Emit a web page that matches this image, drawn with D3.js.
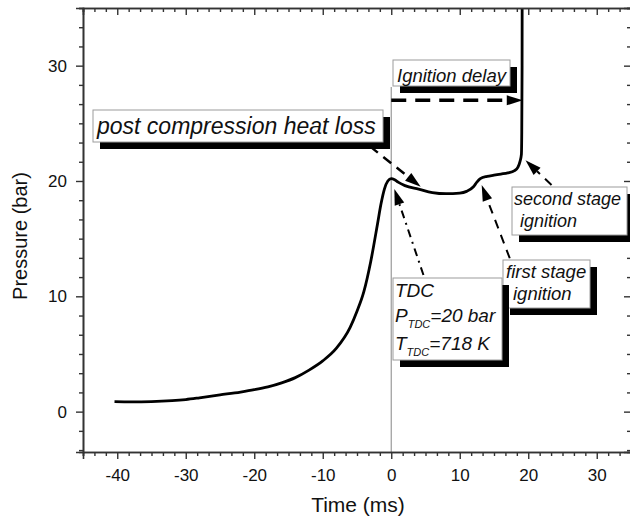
<!DOCTYPE html>
<html>
<head>
<meta charset="utf-8">
<script src="https://cdn.jsdelivr.net/npm/d3@7"></script>
<style>
  body { margin: 0; background: #fff; }
  svg { display: block; font-family: "Liberation Sans", Arial, sans-serif; }
</style>
</head>
<body>
<svg id="chart" width="630" height="518"></svg>
<script>
// Pressure trace (time in ms, pressure in bar)
var time = [-40.4, -38, -35, -32, -30, -28, -25, -22, -20, -18, -16, -14, -12, -10, -8, -6, -5, -4, -3, -2, -1.5, -1, -0.5,
    0, 0.5, 1, 2, 4, 6, 8, 10, 11, 12, 12.5, 13, 14, 15, 16, 17, 18, 18.5, 18.8, 19.0, 19.05, 19.1, 19.12];
var pressure = [0.87, 0.85, 0.87, 0.95, 1.05, 1.2, 1.45, 1.7, 1.9, 2.15, 2.5, 2.95, 3.6, 4.4, 5.5, 7.3, 8.7, 10.4, 13.0, 16.3, 18.0, 19.3, 20.0,
    20.2, 20.1, 19.9, 19.6, 19.3, 19.0, 18.9, 18.95, 19.1, 19.5, 19.9, 20.2, 20.4, 20.5, 20.6, 20.7, 20.9, 21.2, 21.7, 22.3, 24, 30, 40];

var xTicks = [-40, -30, -20, -10, 0, 10, 20, 30];
var yTicks = [0, 10, 20, 30];
var xDomain = [-45, 35];
var yDomain = [-3.5, 35];

// Annotation boxes (text lines) and arrows (data coordinates)
var boxes = [
    {x: 93, y: 110, w: 290, h: 32, size: 23, lines: [{x: 97, y: 133.5, parts: [["post compression heat loss"]]}]},
    {x: 393, y: 60, w: 117, h: 26, size: 18.5, lines: [{x: 397, y: 81.5, parts: [["Ignition delay"]]}]},
    {x: 512, y: 187, w: 115, h: 48, size: 18, lines: [
        {x: 514, y: 205, parts: [["second stage"]]},
        {x: 520, y: 227, parts: [["ignition"]]}]},
    {x: 503, y: 260, w: 87, h: 48, size: 18.5, lines: [
        {x: 506, y: 278, parts: [["first stage"]]},
        {x: 513, y: 300, parts: [["ignition"]]}]},
    {x: 393, y: 278, w: 109, h: 82, size: 19, lines: [
        {x: 395, y: 297, parts: [["TDC"]]},
        {x: 395, y: 322, parts: [["P"], ["TDC", "sub"], ["=20 bar"]]},
        {x: 395, y: 350, parts: [["T"], ["TDC", "sub"], ["=718 K"]]}]}
];

var arrows = [
    {from: [-3.1, 23.0], to: [4.3, 19.5], width: 2.5, dash: "10,7"},
    {from: [0, 27.0], to: [19.2, 27.0], width: 3.5, dash: "15,9"},
    {from: [23.4, 19.65], to: [19.6, 21.8], width: 2, dash: "9,7"},
    {from: [17.3, 13.3], to: [13.2, 19.65], width: 2, dash: "9,7"},
    {from: [4.7, 11.85], to: [0.45, 19.3], width: 2, dash: "8,5,2,5"}
];

var svg = d3.select("#chart");
var margin = {left: 83, right: 631, top: 8, bottom: 452};

var x = d3.scaleLinear().domain(xDomain).range([margin.left, margin.right]);
var y = d3.scaleLinear().domain(yDomain).range([margin.bottom, margin.top]);

// minor ticks: five between each pair of labelled ticks
function isMajor(v, ticks) {
    return ticks.some(function (t) { return Math.abs(t - v) < 1e-6; });
}
var minorX = d3.range(xDomain[0], xDomain[1] + 1e-6, 10 / 6)
    .filter(function (v) { return !isMajor(v, xTicks); });
var minorY = d3.range(-10 / 3, yDomain[1] + 1e-6, 10 / 6)
    .filter(function (v) { return !isMajor(v, yTicks); });

svg.append("defs").append("clipPath").attr("id", "plot-clip")
    .append("rect")
    .attr("x", margin.left).attr("y", margin.top)
    .attr("width", margin.right - margin.left).attr("height", margin.bottom - margin.top);

// TDC marker line
svg.append("line")
    .attr("x1", x(0)).attr("x2", x(0))
    .attr("y1", y(28.15)).attr("y2", y(yDomain[0]))
    .attr("stroke", "#9a9a9a").attr("stroke-width", 1.2);

// Pressure trace
var line = d3.line()
    .x(function (d) { return x(d[0]); })
    .y(function (d) { return y(d[1]); })
    .curve(d3.curveMonotoneX);

svg.append("path")
    .datum(d3.zip(time, pressure))
    .attr("clip-path", "url(#plot-clip)")
    .attr("d", line)
    .attr("fill", "none")
    .attr("stroke", "#000")
    .attr("stroke-width", 2.8)
    .attr("stroke-linejoin", "round");

// Axes: major + minor ticks on all four sides
function styleAxis(g) {
    g.select(".domain").attr("stroke", "#333").attr("stroke-width", 1.6);
    g.selectAll(".tick line").attr("stroke", "#333").attr("stroke-width", 1.4);
    g.selectAll(".tick text").attr("fill", "#111").style("font-size", "17px")
        .style("font-family", "'Liberation Sans', Arial, sans-serif");
}

function drawAxis(make, scale, ticks, minors, transform, size, labels) {
    svg.append("g").attr("transform", transform)
        .call(make(scale).tickValues(minors).tickSize(size * 4 / 7).tickFormat(""))
        .call(styleAxis);
    var g = svg.append("g").attr("transform", transform)
        .call(make(scale).tickValues(ticks).tickSize(size).tickPadding(5)
            .tickFormat(labels ? function (d) { return String(d); } : ""))
        .call(styleAxis);
    return g;
}

var xb = drawAxis(d3.axisBottom, x, xTicks, minorX, "translate(0," + margin.bottom + ")", 7, true);
xb.selectAll(".tick text").attr("dy", "1.0em");
drawAxis(d3.axisTop, x, xTicks, minorX, "translate(0," + margin.top + ")", -7, false);
var yl = drawAxis(d3.axisLeft, y, yTicks, minorY, "translate(" + margin.left + ",0)", 7, true);
yl.selectAll(".tick text").attr("x", -16);
drawAxis(d3.axisRight, y, yTicks, minorY, "translate(" + margin.right + ",0)", -7, false);

// Axis titles
svg.append("text")
    .attr("x", (margin.left + margin.right) / 2 + 1).attr("y", 512)
    .attr("text-anchor", "middle")
    .style("font-size", "21px").attr("fill", "#111")
    .text("Time (ms)");

svg.append("text")
    .attr("transform", "translate(27," + 236 + ") rotate(-90)")
    .attr("text-anchor", "middle")
    .style("font-size", "20px").attr("fill", "#111")
    .text("Pressure (bar)");

// Arrows
function drawArrow(a) {
    var x1 = x(a.from[0]), y1 = y(a.from[1]), x2 = x(a.to[0]), y2 = y(a.to[1]);
    var ang = Math.atan2(y2 - y1, x2 - x1);
    var len = 16, half = 5;
    var bx = x2 - len * Math.cos(ang), by = y2 - len * Math.sin(ang);
    svg.append("line")
        .attr("x1", x1).attr("y1", y1).attr("x2", bx).attr("y2", by)
        .attr("stroke", "#000").attr("stroke-width", a.width)
        .attr("stroke-dasharray", a.dash);
    var pts = [
        [x2, y2],
        [bx + half * Math.sin(ang), by - half * Math.cos(ang)],
        [bx - half * Math.sin(ang), by + half * Math.cos(ang)]
    ];
    svg.append("polygon").attr("points", pts.map(function (p) { return p.join(","); }).join(" "))
        .attr("fill", "#000");
}
arrows.forEach(drawArrow);

// Annotation boxes with drop shadows
boxes.forEach(function (b) {
    var g = svg.append("g");
    g.append("rect").attr("x", b.x + 7).attr("y", b.y + 7).attr("width", b.w).attr("height", b.h)
        .attr("fill", "#000");
    g.append("rect").attr("x", b.x).attr("y", b.y).attr("width", b.w).attr("height", b.h)
        .attr("fill", "#fff").attr("stroke", "#9c9c9c").attr("stroke-width", 1);
    b.lines.forEach(function (ln) {
        var t = g.append("text").attr("x", ln.x).attr("y", ln.y)
            .style("font-size", b.size + "px").style("font-style", "italic").attr("fill", "#111");
        ln.parts.forEach(function (p) {
            var ts = t.append("tspan").text(p[0]);
            if (p[1] === "sub") ts.style("font-size", "11px").attr("dy", 6);
            else if (t.selectAll("tspan").size() > 1) ts.attr("dy", -6);
        });
    });
});
</script>
</body>
</html>
